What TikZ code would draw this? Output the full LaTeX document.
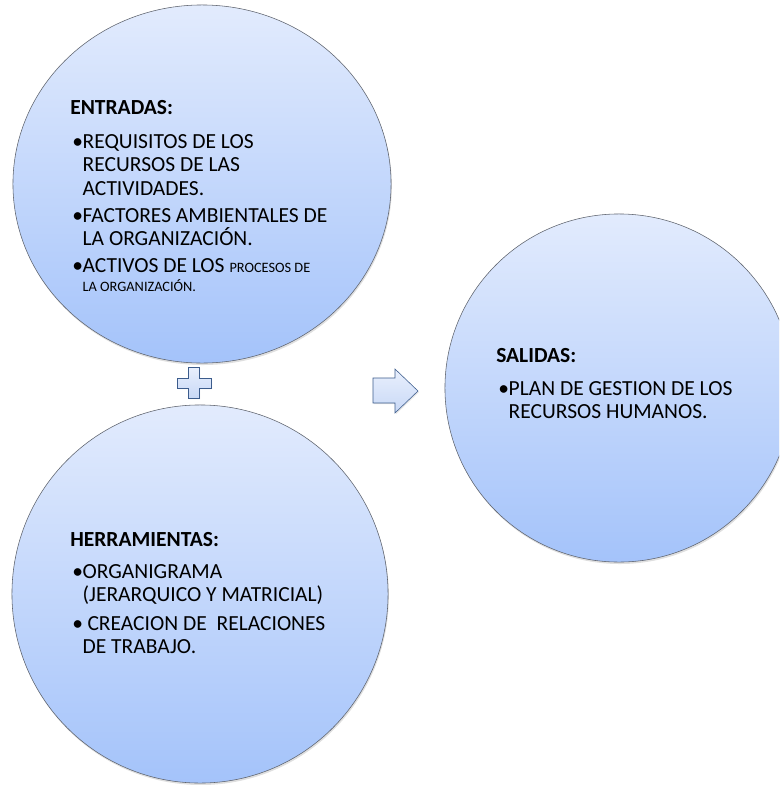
\documentclass[tikz,border=0pt]{standalone}
\usepackage{fontspec}
\setmainfont{Carlito}
\usetikzlibrary{shapes.geometric,shadows}
\definecolor{BubbleTop}{RGB}{226,235,253}
\definecolor{BubbleBottom}{RGB}{164,195,250}
\definecolor{BubbleEdge}{RGB}{95,100,110}
\definecolor{SignTop}{RGB}{233,240,253}
\definecolor{SignBottom}{RGB}{200,216,246}
\definecolor{SignEdge}{RGB}{60,92,140}
% bullet and the indent of the lines under it
\newcommand{\bul}{\makebox[8.8pt][l]{\hspace{1.4pt}\textbullet}}
\newcommand{\ind}{\hspace*{8.8pt}}
\newcommand{\smalltxt}[1]{{\fontsize{10.2pt}{12pt}\selectfont #1}}
\tikzset{
  bubble/.style={ellipse,draw=BubbleEdge,thin,inner sep=0pt,outer sep=0pt,
    top color=BubbleTop,bottom color=BubbleBottom,
    drop shadow={opacity=0.25,shadow xshift=0.6pt,shadow yshift=-1.4pt}},
  bubbletext/.style={anchor=north west,inner sep=0pt,align=left,
    font=\fontsize{15.3pt}{16.7pt}\selectfont},
  sign/.style={draw=SignEdge,top color=SignTop,bottom color=SignBottom,
    line join=miter,drop shadow={opacity=0.2,shadow xshift=0.8pt,shadow yshift=-0.8pt}}
}

\begin{document}
\begin{tikzpicture}[x=0.025cm,y=-0.025cm]
  \useasboundingbox (0,0) rectangle (779,785);
  \clip (0,0) rectangle (779,785);

  % the three bubbles
  \node[bubble,minimum width=9.45cm,minimum height=8.95cm] (entradas) at (202,184) {};
  \node[bubble,minimum width=9.4cm,minimum height=9.45cm] (herramientas) at (200,594) {};
  \node[bubble,minimum width=8.7cm,minimum height=8.7cm] (salidas) at (619,388) {};

  % plus between the left bubbles
  \draw[sign] (188,367) -- (199,367) -- (199,378) -- (211,378) -- (211,388) -- (199,388)
    -- (199,398) -- (188,398) -- (188,388) -- (177,388) -- (177,378) -- (188,378) -- cycle;

  % block arrow towards the outputs
  \draw[sign] (373,378) -- (395,378) -- (395,369) -- (418,391) -- (395,413)
    -- (395,403) -- (373,403) -- cycle;

  % texts
  \node[bubbletext] (entradas-txt) at (70,100) {%
    \textbf{ENTRADAS:}\\[7.5pt]
    \bul REQUISITOS DE LOS\\
    \ind RECURSOS DE LAS\\
    \ind ACTIVIDADES.\\[2.5pt]
    \bul FACTORES AMBIENTALES DE\\
    \ind LA ORGANIZACIÓN.\\[2.5pt]
    \bul ACTIVOS DE LOS \smalltxt{PROCESOS DE}\\[-3.2pt]
    \ind\smalltxt{LA ORGANIZACIÓN.}};

  \node[bubbletext] (herramientas-txt) at (70,532) {%
    \textbf{HERRAMIENTAS:}\\[6pt]
    \bul ORGANIGRAMA\\
    \ind (JERARQUICO Y MATRICIAL)\\[3.5pt]
    \bul\ CREACION DE\ \ RELACIONES\\
    \ind DE TRABAJO.};

  \node[bubbletext] (salidas-txt) at (496,348) {%
    \textbf{SALIDAS:}\\[6.8pt]
    \bul PLAN DE GESTION DE LOS\\
    \ind RECURSOS HUMANOS.};
\end{tikzpicture}
\end{document}
